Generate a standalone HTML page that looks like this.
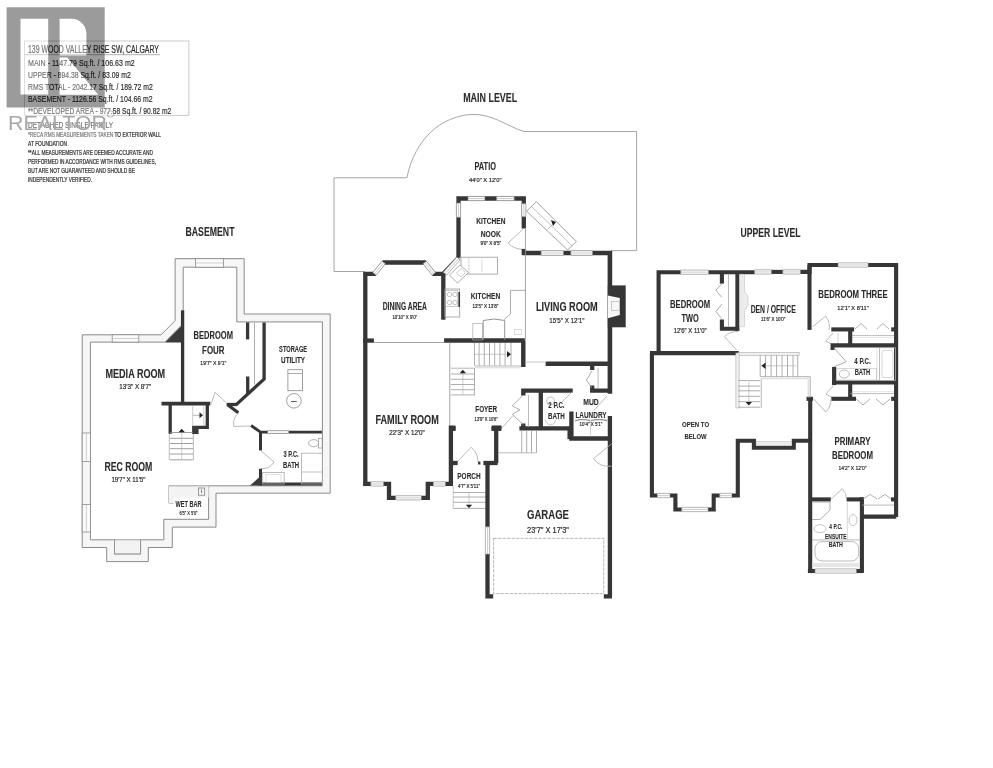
<!DOCTYPE html>
<html><head><meta charset="utf-8"><style>
html,body{margin:0;padding:0;background:#fff;}
svg{display:block;will-change:transform;font-family:"Liberation Sans",sans-serif;}
text{stroke:#2b2b2b;stroke-width:0.2px;}
text[font-weight=bold]{stroke-width:0.1px;}
</style></head><body>
<svg width="993" height="768" viewBox="0 0 993 768">
<rect x="24.5" y="41" width="164.4" height="74.3" rx="0" fill="none" stroke="#bdbdbd" stroke-width="0.8"/>
<polyline points="25,54.7 160,54.7" fill="none" stroke="#999" stroke-width="0.8"/>
<text x="28" y="53.22" font-size="10.4" fill="#2b2b2b" font-weight="normal" textLength="131" lengthAdjust="spacingAndGlyphs">139 WOOD VALLEY RISE SW, CALGARY</text>
<text x="28" y="66.04" font-size="9.9" fill="#2b2b2b" font-weight="normal" textLength="106.7" lengthAdjust="spacingAndGlyphs">MAIN - 1147.79 Sq.ft. / 106.63 m2</text>
<text x="28" y="77.84" font-size="9.9" fill="#2b2b2b" font-weight="normal" textLength="102.7" lengthAdjust="spacingAndGlyphs">UPPER - 894.38 Sq.ft. / 83.09 m2</text>
<text x="28" y="90.14" font-size="9.9" fill="#2b2b2b" font-weight="normal" textLength="124.7" lengthAdjust="spacingAndGlyphs">RMS TOTAL - 2042.17 Sq.ft. / 189.72 m2</text>
<text x="28" y="101.94" font-size="9.9" fill="#2b2b2b" font-weight="normal" textLength="124.7" lengthAdjust="spacingAndGlyphs">BASEMENT - 1126.56 Sq.ft. / 104.66 m2</text>
<text x="28" y="113.54" font-size="9.9" fill="#2b2b2b" font-weight="normal" textLength="143.3" lengthAdjust="spacingAndGlyphs">**DEVELOPED AREA - 977.58 Sq.ft. / 90.82 m2</text>
<text x="28" y="127.54" font-size="9.9" fill="#2b2b2b" font-weight="normal" textLength="85.2" lengthAdjust="spacingAndGlyphs">DETACHED SINGLE FAMILY</text>
<text x="28" y="136.96" font-size="6.6" fill="#2b2b2b" font-weight="normal" textLength="133" lengthAdjust="spacingAndGlyphs">*RECA RMS MEASUREMENTS TAKEN TO EXTERIOR WALL</text>
<text x="28" y="145.56" font-size="6.6" fill="#2b2b2b" font-weight="normal" textLength="39" lengthAdjust="spacingAndGlyphs">AT FOUNDATION</text>
<text x="28" y="154.66" font-size="6.6" fill="#2b2b2b" font-weight="normal" textLength="125" lengthAdjust="spacingAndGlyphs">**ALL MEASUREMENTS ARE DEEMED ACCURATE AND</text>
<text x="28" y="163.76" font-size="6.6" fill="#2b2b2b" font-weight="normal" textLength="128" lengthAdjust="spacingAndGlyphs">PERFORMED IN ACCORDANCE WITH RMS GUIDELINES,</text>
<text x="28" y="172.76" font-size="6.6" fill="#2b2b2b" font-weight="normal" textLength="107" lengthAdjust="spacingAndGlyphs">BUT ARE NOT GUARANTEED AND SHOULD BE</text>
<text x="28" y="181.86" font-size="6.6" fill="#2b2b2b" font-weight="normal" textLength="64" lengthAdjust="spacingAndGlyphs">INDEPENDENTLY VERIFIED.</text>
<path d="M20.5,18.8 V94.6 H48.2 V18.8 Z M59.6,18.8 V55.5 H86.4 V34 A15,15 0 0 0 71.4,18.8 Z M59.6,57.5 V94.7 H98.3 L67.3,57.5 Z M6.6,107.4 H113 V138 H6.6 Z" fill="#ffffff" fill-opacity="0.35"/>
<path d="M6.6,7.2 H104.7 V107.4 H6.6 Z M20.5,18.8 V94.6 H48.2 V18.8 Z M59.6,18.8 V55.5 H86.4 V34 A15,15 0 0 0 71.4,18.8 Z M59.6,57.5 V94.7 H98.3 L67.3,57.5 Z" fill="#9b9b9b" fill-rule="evenodd" style="mix-blend-mode:multiply"/>
<text x="8" y="129.6" font-size="21" fill="#a8a8a8" stroke="none" style="stroke:none" textLength="99" lengthAdjust="spacingAndGlyphs">REALTOR</text>
<circle cx="110.5" cy="114" r="3.2" fill="none" stroke="#999" stroke-width="0.7"/>
<text x="210" y="236.30" font-size="12" fill="#2b2b2b" text-anchor="middle" font-weight="bold" textLength="49" lengthAdjust="spacingAndGlyphs">BASEMENT</text>
<text x="490.2" y="101.90" font-size="12" fill="#2b2b2b" text-anchor="middle" font-weight="bold" textLength="54" lengthAdjust="spacingAndGlyphs">MAIN LEVEL</text>
<text x="770.6" y="236.80" font-size="12" fill="#2b2b2b" text-anchor="middle" font-weight="bold" textLength="60" lengthAdjust="spacingAndGlyphs">UPPER LEVEL</text>
<polygon points="82.2,334.8 161.1,334.8 175.1,320.7 175.1,258.7 244.2,258.7 244.2,314 330.2,314 330.2,493.2 216,493.2 216,527.1 172.3,527.1 172.3,547.5 148.3,547.5 148.3,561.6 106.7,561.6 106.7,547.5 82.2,547.5" fill="#f6f6f6" stroke="#8a8a8a" stroke-width="1"/>
<polygon points="90.4,342.1 165.1,342.1 183.2,323.4 183.2,267.2 236.8,267.2 236.8,321.9 322.4,321.9 322.4,485.8 208.6,485.8 208.6,519.3 163.8,519.3 163.8,539.8 140.6,539.8 140.6,553.9 114.5,553.9 114.5,539.8 90.4,539.8" fill="#ffffff" stroke="#8a8a8a" stroke-width="1"/>
<polygon points="183.8,323.4 183.8,342.6 165.1,342.6" fill="#3a3a3a" stroke="none" stroke-width="1"/>
<rect x="195.5" y="258.7" width="28.099999999999994" height="8.5" rx="0" fill="#fbfbfb" stroke="#8a8a8a" stroke-width="0.8"/>
<polyline points="195.5,262.95 223.6,262.95" fill="none" stroke="#b0b0b0" stroke-width="0.6"/>
<rect x="112.2" y="334.8" width="26.60000000000001" height="7.300000000000011" rx="0" fill="#fbfbfb" stroke="#8a8a8a" stroke-width="0.8"/>
<polyline points="112.2,338.45000000000005 138.8,338.45000000000005" fill="none" stroke="#b0b0b0" stroke-width="0.6"/>
<rect x="82.2" y="433" width="8.200000000000003" height="28.600000000000023" rx="0" fill="#fbfbfb" stroke="#8a8a8a" stroke-width="0.8"/>
<polyline points="86.30000000000001,433 86.30000000000001,461.6" fill="none" stroke="#b0b0b0" stroke-width="0.6"/>
<rect x="82.2" y="504.5" width="8.200000000000003" height="27.5" rx="0" fill="#fbfbfb" stroke="#8a8a8a" stroke-width="0.8"/>
<polyline points="86.30000000000001,504.5 86.30000000000001,532" fill="none" stroke="#b0b0b0" stroke-width="0.6"/>
<rect x="114.5" y="539.8" width="26.1" height="14.1" rx="0" fill="#f3f3f3" stroke="#8a8a8a" stroke-width="0.8"/>
<polyline points="182.6,312 182.6,402" fill="none" stroke="#363636" stroke-width="3.3" stroke-linecap="square" stroke-linejoin="miter"/>
<polyline points="161.5,403.6 210.3,403.6" fill="none" stroke="#363636" stroke-width="3.9" stroke-linecap="butt" stroke-linejoin="miter"/>
<polyline points="170.2,403.6 170.2,433.8" fill="none" stroke="#363636" stroke-width="3.3" stroke-linecap="butt" stroke-linejoin="miter"/>
<polyline points="207.3,403.6 207.3,427.3 192.7,427.3" fill="none" stroke="#363636" stroke-width="3.3" stroke-linecap="butt" stroke-linejoin="miter"/>
<rect x="192.1" y="426" width="6.5" height="8" rx="0" fill="#3a3a3a" stroke="none" stroke-width="1"/>
<polyline points="247.6,322.4 247.6,339.4" fill="none" stroke="#363636" stroke-width="3.3" stroke-linecap="butt" stroke-linejoin="miter"/>
<polyline points="247.7,376.5 247.7,394.1" fill="none" stroke="#363636" stroke-width="3.3" stroke-linecap="butt" stroke-linejoin="miter"/>
<polyline points="254.5,322.4 254.5,384.4" fill="none" stroke="#999" stroke-width="0.8"/>
<polyline points="264.1,322.4 264.1,379.1 235.7,405.1" fill="none" stroke="#363636" stroke-width="3.3" stroke-linecap="butt" stroke-linejoin="miter"/>
<polyline points="226.6,404.5 236.5,404.5" fill="none" stroke="#363636" stroke-width="3.3" stroke-linecap="butt" stroke-linejoin="miter"/>
<polyline points="228,405 238.3,412.7" fill="none" stroke="#363636" stroke-width="3.3" stroke-linecap="butt" stroke-linejoin="miter"/>
<polyline points="169.3,434 169.3,460" fill="none" stroke="#aaa" stroke-width="0.8"/>
<polyline points="193.4,434 193.4,460" fill="none" stroke="#aaa" stroke-width="0.8"/>
<polyline points="170,432.5 193,432.5" fill="none" stroke="#888" stroke-width="0.8"/>
<polyline points="170,438.3 193,438.3" fill="none" stroke="#888" stroke-width="0.8"/>
<polyline points="170,443.5 193,443.5" fill="none" stroke="#888" stroke-width="0.8"/>
<polyline points="170,448.7 193,448.7" fill="none" stroke="#888" stroke-width="0.8"/>
<polyline points="170,454 193,454" fill="none" stroke="#888" stroke-width="0.8"/>
<polyline points="170,459.8 193,459.8" fill="none" stroke="#888" stroke-width="0.8"/>
<polyline points="181.7,430 181.7,459" fill="none" stroke="#aaa" stroke-width="0.6"/>
<polygon points="178.5,432.2 184.9,432.2 181.7,428.8" fill="#222" stroke="none" stroke-width="1"/>
<polyline points="192.7,405.5 192.7,426" fill="none" stroke="#aaa" stroke-width="0.6"/>
<polyline points="203.8,405.5 203.8,426" fill="none" stroke="#aaa" stroke-width="0.6"/>
<polyline points="193,415.3 200,415.3" fill="none" stroke="#888" stroke-width="0.6"/>
<polygon points="199.5,412.3 199.5,418.3 203,415.3" fill="#222" stroke="none" stroke-width="1"/>
<polyline points="211,404.5 215,392.1 225.9,402.5" fill="none" stroke="#aaa" stroke-width="0.8"/>
<path d="M238.5,413 A14,14 0 0 0 233.8,426.5 L250.7,426" fill="none" stroke="#aaa" stroke-width="0.8"/>
<path d="M260.5,450.4 L274,462 A14,14 0 0 1 261,468.7" fill="none" stroke="#aaa" stroke-width="0.8"/>
<polyline points="251.1,425.5 260.5,432.1 321.9,432.1" fill="none" stroke="#363636" stroke-width="2.9" stroke-linecap="butt" stroke-linejoin="miter"/>
<polyline points="260.5,432.1 260.5,450.4" fill="none" stroke="#363636" stroke-width="3" stroke-linecap="butt" stroke-linejoin="miter"/>
<polyline points="260.5,468.7 260.5,484.1 321.9,484.1" fill="none" stroke="#363636" stroke-width="3" stroke-linecap="butt" stroke-linejoin="miter"/>
<polygon points="250,485.6 262,485.6 262,474.7" fill="#3a3a3a" stroke="none" stroke-width="1"/>
<rect x="267.7" y="430.8" width="21" height="2.6" rx="0" fill="#f6f6f6" stroke="#888" stroke-width="0.5"/>
<ellipse cx="313.6" cy="443.2" rx="5" ry="3.6" fill="none" stroke="#999" stroke-width="0.8"/>
<rect x="318.6" y="438.5" width="3.6" height="9.5" rx="0" fill="none" stroke="#999" stroke-width="0.7"/>
<rect x="301.4" y="453.2" width="21" height="30.8" rx="0" fill="none" stroke="#aaa" stroke-width="0.8"/>
<polyline points="301.4,472 322.4,472" fill="none" stroke="#aaa" stroke-width="0.7"/>
<rect x="262.7" y="472.5" width="21.5" height="11.5" rx="0" fill="none" stroke="#aaa" stroke-width="0.8"/>
<rect x="266" y="474.5" width="15" height="8" rx="0" fill="none" stroke="#ccc" stroke-width="0.6"/>
<rect x="287.9" y="369.7" width="14.7" height="21" rx="0" fill="none" stroke="#888" stroke-width="0.8"/>
<polyline points="287.9,373.5 302.6,373.5" fill="none" stroke="#888" stroke-width="0.7"/>
<circle cx="293.9" cy="400.8" r="7.3" fill="none" stroke="#888" stroke-width="0.8"/>
<text x="293.9" y="401.69" font-size="2.5" fill="#2b2b2b" text-anchor="middle" font-weight="normal" textLength="6" lengthAdjust="spacingAndGlyphs">HWH</text>
<polyline points="168.8,485.8 168.8,503.1 173.7,503.1" fill="none" stroke="#888" stroke-width="0.8"/>
<polygon points="168.8,485.8 208.6,485.8 208.6,497.5 173.7,497.5 173.7,503.1 168.8,503.1" fill="#f3f3f3" stroke="none" stroke-width="1"/>
<polyline points="168.8,485.8 208.6,485.8" fill="none" stroke="#888" stroke-width="0.8"/>
<rect x="198.4" y="488" width="6.3" height="7.2" rx="0" fill="none" stroke="#777" stroke-width="0.7"/>
<polyline points="201.5,489.5 201.5,493" fill="none" stroke="#555" stroke-width="0.7"/>
<text x="213.3" y="339.37" font-size="10.8" fill="#2b2b2b" text-anchor="middle" font-weight="bold" textLength="39.4" lengthAdjust="spacingAndGlyphs">BEDROOM</text>
<text x="213.3" y="354.37" font-size="10.8" fill="#2b2b2b" text-anchor="middle" font-weight="bold" textLength="22.5" lengthAdjust="spacingAndGlyphs">FOUR</text>
<text x="213.3" y="364.85" font-size="6" fill="#2b2b2b" text-anchor="middle" font-weight="normal" textLength="26" lengthAdjust="spacingAndGlyphs">19'7&quot; X 9'1&quot;</text>
<text x="293.1" y="351.78" font-size="8.6" fill="#2b2b2b" text-anchor="middle" font-weight="bold" textLength="28" lengthAdjust="spacingAndGlyphs">STORAGE</text>
<text x="293.1" y="362.78" font-size="8.6" fill="#2b2b2b" text-anchor="middle" font-weight="bold" textLength="24" lengthAdjust="spacingAndGlyphs">UTILITY</text>
<text x="135.3" y="377.90" font-size="12" fill="#2b2b2b" text-anchor="middle" font-weight="bold" textLength="59.8" lengthAdjust="spacingAndGlyphs">MEDIA ROOM</text>
<text x="135.3" y="388.76" font-size="6.6" fill="#2b2b2b" text-anchor="middle" font-weight="normal" textLength="32" lengthAdjust="spacingAndGlyphs">13'3&quot; X 8'7&quot;</text>
<text x="128.4" y="470.68" font-size="12.5" fill="#2b2b2b" text-anchor="middle" font-weight="bold" textLength="48" lengthAdjust="spacingAndGlyphs">REC ROOM</text>
<text x="128.4" y="482.36" font-size="6.6" fill="#2b2b2b" text-anchor="middle" font-weight="normal" textLength="34" lengthAdjust="spacingAndGlyphs">19'7&quot; X 11'5&quot;</text>
<text x="291.1" y="456.99" font-size="9.2" fill="#2b2b2b" text-anchor="middle" font-weight="bold" textLength="15" lengthAdjust="spacingAndGlyphs">3 P.C.</text>
<text x="291.1" y="468.09" font-size="9.2" fill="#2b2b2b" text-anchor="middle" font-weight="bold" textLength="16" lengthAdjust="spacingAndGlyphs">BATH</text>
<text x="188.5" y="506.51" font-size="8.4" fill="#2b2b2b" text-anchor="middle" font-weight="bold" textLength="26" lengthAdjust="spacingAndGlyphs">WET BAR</text>
<text x="188.5" y="514.79" font-size="5" fill="#2b2b2b" text-anchor="middle" font-weight="normal" textLength="18" lengthAdjust="spacingAndGlyphs">6'5&quot; X 5'0&quot;</text>
<path d="M365,271.5 H334 V177.8 H407 C412,150 432,118 470,114.5 C492,113 506,126 524,131.5 H636.6 V250.6 H611" fill="none" stroke="#9c9c9c" stroke-width="0.9"/>
<text x="485.2" y="169.98" font-size="10" fill="#2b2b2b" text-anchor="middle" font-weight="bold" textLength="21.5" lengthAdjust="spacingAndGlyphs">PATIO</text>
<text x="485.2" y="181.65" font-size="6" fill="#2b2b2b" text-anchor="middle" font-weight="normal" textLength="32.5" lengthAdjust="spacingAndGlyphs">44'0&quot; X 12'0&quot;</text>
<polyline points="458.5,257.7 458.5,198.5 523.8,198.5 523.8,228.4" fill="none" stroke="#363636" stroke-width="4.3" stroke-linecap="butt" stroke-linejoin="miter"/>
<polygon points="468.0,200.65 484.9,200.65 484.9,196.35 468.0,196.35" fill="#fafafa" stroke="#888888" stroke-width="0.6"/>
<polyline points="468,198.5 484.9,198.5" fill="none" stroke="#aaa" stroke-width="0.5"/>
<polygon points="496.6,200.65 514.2,200.65 514.2,196.35 496.6,196.35" fill="#fafafa" stroke="#888888" stroke-width="0.6"/>
<polyline points="496.6,198.5 514.2,198.5" fill="none" stroke="#aaa" stroke-width="0.5"/>
<polygon points="456.35,203.0 456.35,217.3 460.65,217.3 460.65,203.0" fill="#fafafa" stroke="#888888" stroke-width="0.6"/>
<polyline points="458.5,203 458.5,217.3" fill="none" stroke="#aaa" stroke-width="0.5"/>
<polygon points="521.65,203.7 521.65,216.7 525.95,216.7 525.95,203.7" fill="#fafafa" stroke="#888888" stroke-width="0.6"/>
<polyline points="523.8,203.7 523.8,216.7" fill="none" stroke="#aaa" stroke-width="0.5"/>
<path d="M523.8,228.4 L508,243 A20,20 0 0 0 523.8,249.2" fill="none" stroke="#aaa" stroke-width="0.8"/>
<text x="490.8" y="223.82" font-size="9" fill="#2b2b2b" text-anchor="middle" font-weight="bold" textLength="29.3" lengthAdjust="spacingAndGlyphs">KITCHEN</text>
<text x="490.8" y="236.82" font-size="9" fill="#2b2b2b" text-anchor="middle" font-weight="bold" textLength="20.2" lengthAdjust="spacingAndGlyphs">NOOK</text>
<text x="490.8" y="245.12" font-size="4.8" fill="#2b2b2b" text-anchor="middle" font-weight="normal" textLength="20.8" lengthAdjust="spacingAndGlyphs">9'0&quot; X 8'5&quot;</text>
<polygon points="536.3,201.6 576.2,241.5 567.7,250 526.6,211.3" fill="#ffffff" stroke="#8a8a8a" stroke-width="0.8"/>
<polyline points="531.5,206.5 572,245.7" fill="none" stroke="#999" stroke-width="0.6"/>
<polygon points="551,220 556,222 553,226" fill="#222" stroke="none" stroke-width="1"/>
<polyline points="548,229 553,224" fill="none" stroke="#999" stroke-width="0.6"/>
<polyline points="522.4,253 609.9,253 609.9,393.8" fill="none" stroke="#363636" stroke-width="4.6" stroke-linecap="butt" stroke-linejoin="miter"/>
<polyline points="523.8,249 523.8,255" fill="none" stroke="#363636" stroke-width="4.3" stroke-linecap="butt" stroke-linejoin="miter"/>
<polygon points="541.1,255.3 563.5,255.3 563.5,250.7 541.1,250.7" fill="#fafafa" stroke="#888888" stroke-width="0.6"/>
<polyline points="541.1,253 563.5,253" fill="none" stroke="#aaa" stroke-width="0.5"/>
<polygon points="570.8,255.3 592.5,255.3 592.5,250.7 570.8,250.7" fill="#fafafa" stroke="#888888" stroke-width="0.6"/>
<polyline points="570.8,253 592.5,253" fill="none" stroke="#aaa" stroke-width="0.5"/>
<polyline points="525.4,228 525.4,340" fill="none" stroke="#9a9a9a" stroke-width="0.9"/>
<polygon points="607.8,285.4 625.7,285.4 625.7,327.3 607.8,327.3" fill="#363636" stroke="none" stroke-width="1"/>
<polygon points="607.8,295.4 619.8,298 619.8,314.9 607.8,318.2" fill="#f7f7f7" stroke="none" stroke-width="1"/>
<rect x="611.4" y="301.5" width="8" height="9" rx="0" fill="none" stroke="#aaa" stroke-width="0.6"/>
<polyline points="545.6,363.8 611,363.8" fill="none" stroke="#363636" stroke-width="4.6" stroke-linecap="butt" stroke-linejoin="miter"/>
<text x="566.8" y="311.14" font-size="12.4" fill="#2b2b2b" text-anchor="middle" font-weight="bold" textLength="61.8" lengthAdjust="spacingAndGlyphs">LIVING ROOM</text>
<text x="566.8" y="323.31" font-size="7" fill="#2b2b2b" text-anchor="middle" font-weight="normal" textLength="35.1" lengthAdjust="spacingAndGlyphs">15'5&quot; X 12'1&quot;</text>
<polyline points="365.3,485.7 365.3,273.8 374.5,273.8 383.7,262.5 424.7,262.5 433.8,273.8 443.3,273.8 458.5,257.7" fill="none" stroke="#363636" stroke-width="4.3" stroke-linecap="butt" stroke-linejoin="miter"/>
<polygon points="376.17,275.16 385.37,263.86 382.03,261.14 372.83,272.44" fill="#fafafa" stroke="#888888" stroke-width="0.6"/>
<polyline points="374.5,273.8 383.7,262.5" fill="none" stroke="#aaa" stroke-width="0.5"/>
<polygon points="423.03,263.85 432.13,275.15 435.47,272.45 426.37,261.15" fill="#fafafa" stroke="#888888" stroke-width="0.6"/>
<polyline points="424.7,262.5 433.8,273.8" fill="none" stroke="#aaa" stroke-width="0.5"/>
<polygon points="446.51,275.23 460.11,259.93 456.89,257.07 443.29,272.37" fill="#fafafa" stroke="#888888" stroke-width="0.6"/>
<polyline points="444.9,273.8 458.5,258.5" fill="none" stroke="#aaa" stroke-width="0.5"/>
<polyline points="443.3,273.8 443.3,319.7" fill="none" stroke="#363636" stroke-width="4.3" stroke-linecap="butt" stroke-linejoin="miter"/>
<polyline points="363.2,340.6 373.9,340.6" fill="none" stroke="#363636" stroke-width="4.3" stroke-linecap="butt" stroke-linejoin="miter"/>
<polyline points="373.9,342.5 444.2,342.5" fill="none" stroke="#9a9a9a" stroke-width="0.9"/>
<polyline points="444.1,340.5 524.8,340.5 523.3,340.5 523.3,366.9" fill="none" stroke="#363636" stroke-width="4.4" stroke-linecap="butt" stroke-linejoin="miter"/>
<text x="404.8" y="309.88" font-size="10" fill="#2b2b2b" text-anchor="middle" font-weight="bold" textLength="44.3" lengthAdjust="spacingAndGlyphs">DINING AREA</text>
<text x="404.8" y="319.00" font-size="5.6" fill="#2b2b2b" text-anchor="middle" font-weight="normal" textLength="24.7" lengthAdjust="spacingAndGlyphs">10'10&quot; X 9'0&quot;</text>
<rect x="461" y="257.2" width="36.5" height="16.9" rx="0" fill="none" stroke="#999" stroke-width="0.8"/>
<polyline points="468.9,257.2 468.9,274.1" fill="none" stroke="#bbb" stroke-width="0.6"/>
<polyline points="481.9,259 481.9,272" fill="none" stroke="#bbb" stroke-width="0.6"/>
<polygon points="460,265 468.5,272.5 457.5,283 449.5,275" fill="#fff" stroke="#999" stroke-width="0.8"/>
<polygon points="461,268.5 465.5,272.5 461,277 456.5,273" fill="none" stroke="#aaa" stroke-width="0.6"/>
<rect x="444.8" y="289" width="14.9" height="28" rx="0" fill="none" stroke="#999" stroke-width="0.8"/>
<rect x="445.8" y="290.5" width="12" height="16" rx="0" fill="none" stroke="#aaa" stroke-width="0.6"/>
<circle cx="449.5" cy="294.5" r="2.2" fill="none" stroke="#999" stroke-width="0.6"/>
<circle cx="455" cy="294.5" r="2.2" fill="none" stroke="#999" stroke-width="0.6"/>
<circle cx="449.5" cy="302.5" r="2.2" fill="none" stroke="#999" stroke-width="0.6"/>
<circle cx="455" cy="302.5" r="2.2" fill="none" stroke="#999" stroke-width="0.6"/>
<polyline points="459.2,292 459.2,307" fill="none" stroke="#363636" stroke-width="1.6" stroke-linecap="butt" stroke-linejoin="miter"/>
<polyline points="510.5,290.4 525.5,290.4" fill="none" stroke="#999" stroke-width="0.8"/>
<polyline points="510.5,290.4 510.5,313.8 504,319.7" fill="none" stroke="#999" stroke-width="0.8"/>
<path d="M483.2,340 V320.5 Q494,317.5 504.7,320.5 V340" fill="none" stroke="#888" stroke-width="0.9"/>
<rect x="472.8" y="323.6" width="9.7" height="16.4" rx="0" fill="none" stroke="#aaa" stroke-width="0.7"/>
<rect x="514.5" y="329.5" width="7" height="5" rx="0" fill="none" stroke="#bbb" stroke-width="0.5"/>
<text x="485.5" y="299.24" font-size="9.6" fill="#2b2b2b" text-anchor="middle" font-weight="bold" textLength="29.3" lengthAdjust="spacingAndGlyphs">KITCHEN</text>
<text x="485.5" y="308.23" font-size="5.4" fill="#2b2b2b" text-anchor="middle" font-weight="normal" textLength="26" lengthAdjust="spacingAndGlyphs">13'5&quot; X 13'8&quot;</text>
<polyline points="474.5,343 474.5,365.6" fill="none" stroke="#999" stroke-width="0.8"/>
<polyline points="479.1,343 479.1,365.6" fill="none" stroke="#999" stroke-width="0.8"/>
<polyline points="484.3,343 484.3,365.6" fill="none" stroke="#999" stroke-width="0.8"/>
<polyline points="489.5,343 489.5,365.6" fill="none" stroke="#999" stroke-width="0.8"/>
<polyline points="494.7,343 494.7,365.6" fill="none" stroke="#999" stroke-width="0.8"/>
<polyline points="499.9,343 499.9,365.6" fill="none" stroke="#999" stroke-width="0.8"/>
<polyline points="505.1,343 505.1,365.6" fill="none" stroke="#999" stroke-width="0.8"/>
<polyline points="511,343 511,365.6" fill="none" stroke="#999" stroke-width="0.8"/>
<polyline points="474.5,354.3 508,354.3" fill="none" stroke="#aaa" stroke-width="0.6"/>
<polygon points="507,351 507,357.6 511,354.3" fill="#222" stroke="none" stroke-width="1"/>
<polyline points="474.5,366 521,366" fill="none" stroke="#999" stroke-width="0.7"/>
<polyline points="474.5,367.8 521,367.8" fill="none" stroke="#bbb" stroke-width="0.6"/>
<polyline points="474.5,368 474.5,395.5" fill="none" stroke="#999" stroke-width="0.8"/>
<polyline points="451,374 474,374" fill="none" stroke="#999" stroke-width="0.8"/>
<polyline points="451,379.3 474,379.3" fill="none" stroke="#999" stroke-width="0.8"/>
<polyline points="451,384.5 474,384.5" fill="none" stroke="#999" stroke-width="0.8"/>
<polyline points="451,389.7 474,389.7" fill="none" stroke="#999" stroke-width="0.8"/>
<polyline points="451,394.9 474,394.9" fill="none" stroke="#999" stroke-width="0.8"/>
<polyline points="451,368.2 474,368.2" fill="none" stroke="#999" stroke-width="0.7"/>
<polyline points="462.8,372 462.8,394" fill="none" stroke="#aaa" stroke-width="0.6"/>
<polygon points="459.6,373.2 466,373.2 462.8,369.8" fill="#222" stroke="none" stroke-width="1"/>
<polyline points="449.8,342.5 449.8,428" fill="none" stroke="#9a9a9a" stroke-width="0.9"/>
<polyline points="523.3,395.5 523.3,390.6 572.7,390.6" fill="none" stroke="#363636" stroke-width="4.3" stroke-linecap="butt" stroke-linejoin="miter"/>
<polyline points="540.8,390.6 540.8,428.3" fill="none" stroke="#363636" stroke-width="4.3" stroke-linecap="butt" stroke-linejoin="miter"/>
<polyline points="519.4,428.3 571.4,428.3" fill="none" stroke="#363636" stroke-width="4.3" stroke-linecap="butt" stroke-linejoin="miter"/>
<polyline points="571.4,411.4 571.4,438.5 609.8,438.5" fill="none" stroke="#363636" stroke-width="4.3" stroke-linecap="butt" stroke-linejoin="miter"/>
<polyline points="523.3,423.5 523.3,428.3" fill="none" stroke="#363636" stroke-width="4.3" stroke-linecap="butt" stroke-linejoin="miter"/>
<polyline points="528.5,395 528.5,427" fill="none" stroke="#aaa" stroke-width="0.8"/>
<polyline points="523.3,394.9 512.3,406 520,409.9 512.3,414.4 523.3,424.8" fill="none" stroke="#999" stroke-width="0.8"/>
<polyline points="501.8,428.1 512.9,415.7" fill="none" stroke="#aaa" stroke-width="0.8"/>
<polyline points="449.8,428.8 455.6,428.8" fill="none" stroke="#363636" stroke-width="4.3" stroke-linecap="butt" stroke-linejoin="miter"/>
<polyline points="491.4,428.8 501.2,428.8" fill="none" stroke="#363636" stroke-width="4.3" stroke-linecap="butt" stroke-linejoin="miter"/>
<polyline points="592.2,370 592.2,363.8" fill="none" stroke="#363636" stroke-width="4.3" stroke-linecap="butt" stroke-linejoin="miter"/>
<polyline points="592.2,385.5 592.2,390.6 609.9,390.6" fill="none" stroke="#363636" stroke-width="4.3" stroke-linecap="butt" stroke-linejoin="miter"/>
<polyline points="598.1,368 598.1,389" fill="none" stroke="#aaa" stroke-width="0.8"/>
<polyline points="592,371 586.4,380 592,388" fill="none" stroke="#999" stroke-width="0.8"/>
<polyline points="607.2,395.8 594.2,410.1" fill="none" stroke="#aaa" stroke-width="0.8"/>
<polyline points="609.9,416 609.9,466.5" fill="none" stroke="#363636" stroke-width="4.3" stroke-linecap="butt" stroke-linejoin="miter"/>
<polyline points="572,391.9 561.7,402.3" fill="none" stroke="#aaa" stroke-width="0.8"/>
<circle cx="550.6" cy="401" r="4" fill="none" stroke="#aaa" stroke-width="0.7"/>
<path d="M545.5,419.9 A5,5 0 0 0 555.5,419.9" fill="none" stroke="#aaa" stroke-width="0.7"/>
<polyline points="575,420 608,420" fill="none" stroke="#999" stroke-width="0.6"/>
<polyline points="590.5,421 590.5,436.5" fill="none" stroke="#bbb" stroke-width="0.6"/>
<polyline points="525.5,362 545.6,362" fill="none" stroke="#c8c8c8" stroke-width="1.0"/>
<path d="M575,421 Q583,417.5 590,421 M591,421 Q599,417.5 607,421" fill="none" stroke="#777" stroke-width="0.8"/>
<text x="556.4" y="407.64" font-size="9.6" fill="#2b2b2b" text-anchor="middle" font-weight="bold" textLength="16.3" lengthAdjust="spacingAndGlyphs">2 P.C.</text>
<text x="556.4" y="418.74" font-size="9.6" fill="#2b2b2b" text-anchor="middle" font-weight="bold" textLength="16.9" lengthAdjust="spacingAndGlyphs">BATH</text>
<text x="591" y="405.04" font-size="9.6" fill="#2b2b2b" text-anchor="middle" font-weight="bold" textLength="15.6" lengthAdjust="spacingAndGlyphs">MUD</text>
<text x="591" y="418.04" font-size="9.6" fill="#2b2b2b" text-anchor="middle" font-weight="bold" textLength="31.2" lengthAdjust="spacingAndGlyphs">LAUNDRY</text>
<text x="591" y="425.79" font-size="5" fill="#2b2b2b" text-anchor="middle" font-weight="normal" textLength="22.8" lengthAdjust="spacingAndGlyphs">10'4&quot; X 5'1&quot;</text>
<text x="486.2" y="412.44" font-size="9.6" fill="#2b2b2b" text-anchor="middle" font-weight="bold" textLength="21.9" lengthAdjust="spacingAndGlyphs">FOYER</text>
<text x="486.2" y="421.19" font-size="5" fill="#2b2b2b" text-anchor="middle" font-weight="normal" textLength="23.2" lengthAdjust="spacingAndGlyphs">13'9&quot; X 10'6&quot;</text>
<polyline points="363.3,483.9 370.9,483.9" fill="none" stroke="#363636" stroke-width="4.3" stroke-linecap="butt" stroke-linejoin="miter"/>
<polygon points="370.9,486.05 383.7,486.05 383.7,481.75 370.9,481.75" fill="#fafafa" stroke="#888888" stroke-width="0.6"/>
<polyline points="370.9,483.9 383.7,483.9" fill="none" stroke="#aaa" stroke-width="0.5"/>
<polyline points="383.7,483.9 389,483.9 389,497.8 395.8,497.8" fill="none" stroke="#363636" stroke-width="4.3" stroke-linecap="butt" stroke-linejoin="miter"/>
<polygon points="395.8,499.95 421.5,499.95 421.5,495.65 395.8,495.65" fill="#fafafa" stroke="#888888" stroke-width="0.6"/>
<polyline points="395.8,497.8 421.5,497.8" fill="none" stroke="#aaa" stroke-width="0.5"/>
<polyline points="421.5,497.8 427.8,497.8 427.8,483.9 433.5,483.9" fill="none" stroke="#363636" stroke-width="4.3" stroke-linecap="butt" stroke-linejoin="miter"/>
<polygon points="433.5,486.05 445.6,486.05 445.6,481.75 433.5,481.75" fill="#fafafa" stroke="#888888" stroke-width="0.6"/>
<polyline points="433.5,483.9 445.6,483.9" fill="none" stroke="#aaa" stroke-width="0.5"/>
<polyline points="445.6,483.9 450.9,483.9 450.9,427.6 455.5,427.6" fill="none" stroke="#363636" stroke-width="4.3" stroke-linecap="butt" stroke-linejoin="miter"/>
<text x="407.1" y="423.90" font-size="12" fill="#2b2b2b" text-anchor="middle" font-weight="bold" textLength="63.4" lengthAdjust="spacingAndGlyphs">FAMILY ROOM</text>
<text x="407.1" y="435.16" font-size="6.6" fill="#2b2b2b" text-anchor="middle" font-weight="normal" textLength="35.5" lengthAdjust="spacingAndGlyphs">22'3&quot; X 12'0&quot;</text>
<polyline points="450.9,463 457.7,463" fill="none" stroke="#363636" stroke-width="4.3" stroke-linecap="butt" stroke-linejoin="miter"/>
<polyline points="478.1,463 480.4,463" fill="none" stroke="#363636" stroke-width="3" stroke-linecap="butt" stroke-linejoin="miter"/>
<polyline points="483.4,463 497.7,463" fill="none" stroke="#363636" stroke-width="4.3" stroke-linecap="butt" stroke-linejoin="miter"/>
<polyline points="496.2,463 496.2,427.6" fill="none" stroke="#363636" stroke-width="4.3" stroke-linecap="butt" stroke-linejoin="miter"/>
<polyline points="491.7,427.6 501.5,427.6" fill="none" stroke="#363636" stroke-width="4.3" stroke-linecap="butt" stroke-linejoin="miter"/>
<path d="M458,461 L471.3,447.2 A20,20 0 0 1 478,462" fill="none" stroke="#aaa" stroke-width="0.8"/>
<polyline points="453.2,492.5 487,492.5" fill="none" stroke="#999" stroke-width="0.8"/>
<polyline points="453.2,497 487,497" fill="none" stroke="#999" stroke-width="0.8"/>
<polyline points="453.2,502.3 487,502.3" fill="none" stroke="#999" stroke-width="0.8"/>
<polyline points="453.2,508.4 487,508.4" fill="none" stroke="#999" stroke-width="0.8"/>
<polyline points="453.2,486 453.2,508.4" fill="none" stroke="#aaa" stroke-width="0.7"/>
<polyline points="469,492.5 469,505" fill="none" stroke="#aaa" stroke-width="0.6"/>
<polygon points="465.8,504.8 472.2,504.8 469,508" fill="#222" stroke="none" stroke-width="1"/>
<text x="469" y="479.35" font-size="8.8" fill="#2b2b2b" text-anchor="middle" font-weight="bold" textLength="23.4" lengthAdjust="spacingAndGlyphs">PORCH</text>
<text x="469" y="488.22" font-size="4.8" fill="#2b2b2b" text-anchor="middle" font-weight="normal" textLength="21.9" lengthAdjust="spacingAndGlyphs">4'7&quot; X 5'11&quot;</text>
<polyline points="487.5,463 487.5,526.9" fill="none" stroke="#363636" stroke-width="4.3" stroke-linecap="butt" stroke-linejoin="miter"/>
<polygon points="485.35,526.9 485.35,554.2 489.65,554.2 489.65,526.9" fill="#fafafa" stroke="#888888" stroke-width="0.6"/>
<polyline points="487.5,526.9 487.5,554.2" fill="none" stroke="#aaa" stroke-width="0.5"/>
<polyline points="487.5,554.2 487.5,596.4 493.2,596.4" fill="none" stroke="#363636" stroke-width="4.3" stroke-linecap="butt" stroke-linejoin="miter"/>
<polyline points="609.9,466.5 609.9,596.4 603.8,596.4" fill="none" stroke="#363636" stroke-width="4.3" stroke-linecap="butt" stroke-linejoin="miter"/>
<rect x="493.7" y="538.3" width="110.1" height="55.4" rx="0" fill="none" stroke="#a5a5a5" stroke-width="0.8"/>
<rect x="493.7" y="538.3" width="110.1" height="55.4" fill="none" stroke="#fff" stroke-width="1" stroke-dasharray="0 3 1.5 0"/>
<path d="M611.8,443.7 L593.5,458.5 A18,18 0 0 0 611,466" fill="none" stroke="#aaa" stroke-width="0.8"/>
<polyline points="569.6,430 569.6,439.1" fill="none" stroke="#363636" stroke-width="4.3" stroke-linecap="butt" stroke-linejoin="miter"/>
<polyline points="499,452.8 536.5,452.8" fill="none" stroke="#aaa" stroke-width="0.8"/>
<polyline points="521.7,431 521.7,452.8" fill="none" stroke="#999" stroke-width="0.8"/>
<polyline points="526.7,431 526.7,452.8" fill="none" stroke="#999" stroke-width="0.8"/>
<polyline points="531.5,431 531.5,452.8" fill="none" stroke="#999" stroke-width="0.8"/>
<polyline points="536.5,431 536.5,452.8" fill="none" stroke="#999" stroke-width="0.8"/>
<text x="548" y="518.95" font-size="13" fill="#2b2b2b" text-anchor="middle" font-weight="bold" textLength="42" lengthAdjust="spacingAndGlyphs">GARAGE</text>
<text x="548" y="533.31" font-size="8.4" fill="#2b2b2b" text-anchor="middle" font-weight="normal" textLength="42" lengthAdjust="spacingAndGlyphs">23'7&quot; X 17'3&quot;</text>
<polyline points="658.6,353.1 658.6,272.2 680.8,272.2" fill="none" stroke="#363636" stroke-width="4.1" stroke-linecap="butt" stroke-linejoin="miter"/>
<polygon points="680.8,274.35 708.7,274.35 708.7,270.05 680.8,270.05" fill="#fafafa" stroke="#888888" stroke-width="0.6"/>
<polyline points="680.8,272.2 708.7,272.2" fill="none" stroke="#aaa" stroke-width="0.5"/>
<polyline points="708.7,272.2 754.7,272.2" fill="none" stroke="#363636" stroke-width="4.1" stroke-linecap="butt" stroke-linejoin="miter"/>
<polygon points="754.7,274.05 771.6,274.05 771.6,269.75 754.7,269.75" fill="#fafafa" stroke="#888888" stroke-width="0.6"/>
<polyline points="754.7,271.9 771.6,271.9" fill="none" stroke="#aaa" stroke-width="0.5"/>
<polyline points="771.6,271.9 782.9,271.9" fill="none" stroke="#363636" stroke-width="4.1" stroke-linecap="butt" stroke-linejoin="miter"/>
<polygon points="782.9,274.05 800.6,274.05 800.6,269.75 782.9,269.75" fill="#fafafa" stroke="#888888" stroke-width="0.6"/>
<polyline points="782.9,271.9 800.6,271.9" fill="none" stroke="#aaa" stroke-width="0.5"/>
<polyline points="800.6,271.9 809.5,271.9 809.5,265 838.1,265" fill="none" stroke="#363636" stroke-width="4.1" stroke-linecap="butt" stroke-linejoin="miter"/>
<polygon points="838.1,267.15 868.3,267.15 868.3,262.85 838.1,262.85" fill="#fafafa" stroke="#888888" stroke-width="0.6"/>
<polyline points="838.1,265 868.3,265" fill="none" stroke="#aaa" stroke-width="0.5"/>
<polyline points="868.3,265 896.1,265 896.1,517" fill="none" stroke="#363636" stroke-width="4.1" stroke-linecap="butt" stroke-linejoin="miter"/>
<polyline points="809.5,265 809.5,329.9" fill="none" stroke="#363636" stroke-width="4.1" stroke-linecap="butt" stroke-linejoin="miter"/>
<polyline points="721.9,272.2 721.9,283.6" fill="none" stroke="#363636" stroke-width="4.1" stroke-linecap="butt" stroke-linejoin="miter"/>
<polyline points="721.9,319.4 721.9,328.8 737.4,328.8" fill="none" stroke="#363636" stroke-width="4.1" stroke-linecap="butt" stroke-linejoin="miter"/>
<polyline points="737.4,272.2 737.4,330.9" fill="none" stroke="#363636" stroke-width="4.1" stroke-linecap="butt" stroke-linejoin="miter"/>
<polyline points="728.5,274 728.5,327" fill="none" stroke="#aaa" stroke-width="0.8"/>
<polyline points="721.9,284 715.9,290.1 721.6,297.2" fill="none" stroke="#999" stroke-width="0.8"/>
<polyline points="721.9,304 715.9,311.6 721.6,318.5" fill="none" stroke="#999" stroke-width="0.8"/>
<polygon points="739.6,274.4 744.5,274.4 744.5,292 748,296 748,306 744.5,311 744.5,326.6 739.6,326.6" fill="#ececec" stroke="#c4c4c4" stroke-width="0.6"/>
<path d="M736.7,350.2 L724.5,336.6 A18,18 0 0 1 738,331.5" fill="none" stroke="#aaa" stroke-width="0.8"/>
<polyline points="650,353.1 738.8,353.1" fill="none" stroke="#363636" stroke-width="4.1" stroke-linecap="butt" stroke-linejoin="miter"/>
<text x="690.1" y="308.19" font-size="10.6" fill="#2b2b2b" text-anchor="middle" font-weight="bold" textLength="40.1" lengthAdjust="spacingAndGlyphs">BEDROOM</text>
<text x="690.1" y="322.49" font-size="10.6" fill="#2b2b2b" text-anchor="middle" font-weight="bold" textLength="17.2" lengthAdjust="spacingAndGlyphs">TWO</text>
<text x="690.1" y="333.19" font-size="6.4" fill="#2b2b2b" text-anchor="middle" font-weight="normal" textLength="32.9" lengthAdjust="spacingAndGlyphs">12'6&quot; X 11'0&quot;</text>
<text x="773.2" y="313.08" font-size="10" fill="#2b2b2b" text-anchor="middle" font-weight="bold" textLength="45.1" lengthAdjust="spacingAndGlyphs">DEN / OFFICE</text>
<text x="773.2" y="321.36" font-size="5.2" fill="#2b2b2b" text-anchor="middle" font-weight="normal" textLength="24.2" lengthAdjust="spacingAndGlyphs">11'6&quot; X 10'0&quot;</text>
<text x="853" y="298.08" font-size="10" fill="#2b2b2b" text-anchor="middle" font-weight="bold" textLength="69.3" lengthAdjust="spacingAndGlyphs">BEDROOM THREE</text>
<text x="853" y="309.55" font-size="6" fill="#2b2b2b" text-anchor="middle" font-weight="normal" textLength="31.4" lengthAdjust="spacingAndGlyphs">12'1&quot; X 8'11&quot;</text>
<polyline points="831.3,329.4 854.1,329.4" fill="none" stroke="#363636" stroke-width="4.1" stroke-linecap="butt" stroke-linejoin="miter"/>
<polyline points="891.2,329.4 896.1,329.4" fill="none" stroke="#363636" stroke-width="4.1" stroke-linecap="butt" stroke-linejoin="miter"/>
<path d="M812.7,326.7 L825.6,316.2 A16,16 0 0 1 829,330" fill="none" stroke="#aaa" stroke-width="0.8"/>
<polyline points="855,329 861,323.5 867,329" fill="none" stroke="#999" stroke-width="0.8"/>
<polyline points="877,329 882.8,323.5 889,329" fill="none" stroke="#999" stroke-width="0.8"/>
<polyline points="850.2,335.6 894,335.6" fill="none" stroke="#aaa" stroke-width="0.8"/>
<polyline points="850.2,337.6 894,337.6" fill="none" stroke="#ccc" stroke-width="0.5"/>
<polyline points="850.2,329.4 850.2,344.8" fill="none" stroke="#363636" stroke-width="4.1" stroke-linecap="butt" stroke-linejoin="miter"/>
<polyline points="833,333 826,341 833,345" fill="none" stroke="#aaa" stroke-width="0.8"/>
<polyline points="838,333 838,345" fill="none" stroke="#bbb" stroke-width="0.6"/>
<polyline points="832.6,350 832.6,345.4 896.1,345.4" fill="none" stroke="#363636" stroke-width="4.1" stroke-linecap="butt" stroke-linejoin="miter"/>
<polyline points="834.1,366.9 834.1,385.1" fill="none" stroke="#363636" stroke-width="4.1" stroke-linecap="butt" stroke-linejoin="miter"/>
<polyline points="832,382.5 896.1,382.5" fill="none" stroke="#363636" stroke-width="4.1" stroke-linecap="butt" stroke-linejoin="miter"/>
<polyline points="834,348 846.2,361.7 834,366.9" fill="none" stroke="#999" stroke-width="0.8"/>
<rect x="879.5" y="347.8" width="16" height="32.7" rx="0" fill="none" stroke="#aaa" stroke-width="0.8"/>
<rect x="882" y="350.5" width="11" height="27" rx="2" fill="none" stroke="#bbb" stroke-width="0.6"/>
<polyline points="876.9,347.8 876.9,380" fill="none" stroke="#ccc" stroke-width="0.6"/>
<rect x="836.5" y="368.5" width="40" height="11.5" rx="0" fill="none" stroke="#bbb" stroke-width="0.6"/>
<ellipse cx="844.3" cy="374" rx="5" ry="4" fill="none" stroke="#999" stroke-width="0.7"/>
<text x="862.5" y="363.55" font-size="8.8" fill="#2b2b2b" text-anchor="middle" font-weight="bold" textLength="16.3" lengthAdjust="spacingAndGlyphs">4 P.C.</text>
<text x="862.5" y="374.65" font-size="8.8" fill="#2b2b2b" text-anchor="middle" font-weight="bold" textLength="15.6" lengthAdjust="spacingAndGlyphs">BATH</text>
<polyline points="850.2,382.5 850.2,398.2" fill="none" stroke="#363636" stroke-width="4.1" stroke-linecap="butt" stroke-linejoin="miter"/>
<polyline points="850.2,393.6 894,393.6" fill="none" stroke="#aaa" stroke-width="0.8"/>
<polyline points="852,391.6 894,391.6" fill="none" stroke="#ccc" stroke-width="0.5"/>
<polyline points="833,386 826,394 833,398" fill="none" stroke="#aaa" stroke-width="0.8"/>
<polyline points="806.5,398.8 813,398.8" fill="none" stroke="#363636" stroke-width="4.1" stroke-linecap="butt" stroke-linejoin="miter"/>
<polyline points="831.3,398.8 856,398.8" fill="none" stroke="#363636" stroke-width="4.1" stroke-linecap="butt" stroke-linejoin="miter"/>
<polyline points="891.2,398.8 896.1,398.8" fill="none" stroke="#363636" stroke-width="4.1" stroke-linecap="butt" stroke-linejoin="miter"/>
<polyline points="856,399 863,405 870,399" fill="none" stroke="#999" stroke-width="0.8"/>
<polyline points="876,399 883,405 890,399" fill="none" stroke="#999" stroke-width="0.8"/>
<polyline points="810.2,398.6 810.2,572.4" fill="none" stroke="#363636" stroke-width="4.1" stroke-linecap="butt" stroke-linejoin="miter"/>
<path d="M813.3,398.6 L825.8,411.9 A18,18 0 0 0 831,398.8" fill="none" stroke="#aaa" stroke-width="0.8"/>
<text x="852.5" y="445.32" font-size="10.4" fill="#2b2b2b" text-anchor="middle" font-weight="bold" textLength="36" lengthAdjust="spacingAndGlyphs">PRIMARY</text>
<text x="852.5" y="459.32" font-size="10.4" fill="#2b2b2b" text-anchor="middle" font-weight="bold" textLength="41" lengthAdjust="spacingAndGlyphs">BEDROOM</text>
<text x="852.5" y="470.25" font-size="6" fill="#2b2b2b" text-anchor="middle" font-weight="normal" textLength="28" lengthAdjust="spacingAndGlyphs">14'2&quot; X 12'0&quot;</text>
<rect x="738.3" y="352.5" width="60.9" height="2.8" fill="#f0f0f0" stroke="#aaa" stroke-width="0.6"/>
<rect x="735.9" y="353" width="3.2" height="55" fill="#f0f0f0" stroke="#aaa" stroke-width="0.6"/>
<polyline points="760.2,355.3 760.2,376.7" fill="none" stroke="#999" stroke-width="0.8"/>
<polyline points="765.6,355.3 765.6,376.7" fill="none" stroke="#999" stroke-width="0.8"/>
<polyline points="771.1,355.3 771.1,376.7" fill="none" stroke="#999" stroke-width="0.8"/>
<polyline points="776.6,355.3 776.6,376.7" fill="none" stroke="#999" stroke-width="0.8"/>
<polyline points="782,355.3 782,376.7" fill="none" stroke="#999" stroke-width="0.8"/>
<polyline points="787.5,355.3 787.5,376.7" fill="none" stroke="#999" stroke-width="0.8"/>
<polyline points="793,355.3 793,376.7" fill="none" stroke="#999" stroke-width="0.8"/>
<polyline points="797.7,355.3 797.7,376.7" fill="none" stroke="#999" stroke-width="0.8"/>
<polyline points="760,365.8 796,365.8" fill="none" stroke="#aaa" stroke-width="0.6"/>
<polygon points="765.5,362.6 765.5,369 761.5,365.8" fill="#222" stroke="none" stroke-width="1"/>
<polyline points="760.2,376.7 810.2,376.7 810.2,397.8" fill="none" stroke="#999" stroke-width="0.8"/>
<polyline points="761.3,378.7 808.2,378.7 808.2,397.8" fill="none" stroke="#bbb" stroke-width="0.6"/>
<polyline points="738.3,380.6 760.2,380.6" fill="none" stroke="#999" stroke-width="0.8"/>
<polyline points="738.3,386.1 760.2,386.1" fill="none" stroke="#999" stroke-width="0.8"/>
<polyline points="738.3,390.8 760.2,390.8" fill="none" stroke="#999" stroke-width="0.8"/>
<polyline points="738.3,396.3 760.2,396.3" fill="none" stroke="#999" stroke-width="0.8"/>
<polyline points="738.3,401.7 760.2,401.7" fill="none" stroke="#999" stroke-width="0.8"/>
<polyline points="738.3,407.2 760.2,407.2" fill="none" stroke="#999" stroke-width="0.8"/>
<polyline points="761.3,378.7 761.3,408" fill="none" stroke="#aaa" stroke-width="0.8"/>
<polyline points="748.8,382 748.8,403" fill="none" stroke="#aaa" stroke-width="0.6"/>
<polygon points="745.6,402 752,402 748.8,405.4" fill="#222" stroke="none" stroke-width="1"/>
<polyline points="651.9,353.1 651.9,495.5 657.4,495.5" fill="none" stroke="#363636" stroke-width="4.1" stroke-linecap="butt" stroke-linejoin="miter"/>
<polygon points="657.4,497.65 670.1,497.65 670.1,493.35 657.4,493.35" fill="#fafafa" stroke="#888888" stroke-width="0.6"/>
<polyline points="657.4,495.5 670.1,495.5" fill="none" stroke="#aaa" stroke-width="0.5"/>
<polyline points="670.1,495.5 675.4,495.5 675.4,509.5 681.8,509.5" fill="none" stroke="#363636" stroke-width="4.1" stroke-linecap="butt" stroke-linejoin="miter"/>
<polygon points="681.8,511.65 708.2,511.65 708.2,507.35 681.8,507.35" fill="#fafafa" stroke="#888888" stroke-width="0.6"/>
<polyline points="681.8,509.5 708.2,509.5" fill="none" stroke="#aaa" stroke-width="0.5"/>
<polyline points="708.2,509.5 713.7,509.5 713.7,495.5 719.8,495.5" fill="none" stroke="#363636" stroke-width="4.1" stroke-linecap="butt" stroke-linejoin="miter"/>
<polygon points="719.8,497.65 732.0,497.65 732.0,493.35 719.8,493.35" fill="#fafafa" stroke="#888888" stroke-width="0.6"/>
<polyline points="719.8,495.5 732,495.5" fill="none" stroke="#aaa" stroke-width="0.5"/>
<polyline points="732,495.5 737.8,495.5 737.8,440.8 753.9,440.8 753.9,447.8 793.8,447.8 793.8,440.8 810.2,440.8" fill="none" stroke="#363636" stroke-width="4.1" stroke-linecap="butt" stroke-linejoin="miter"/>
<rect x="756.2" y="441.5" width="35.3" height="4.2" rx="0" fill="#ececec" stroke="#bbb" stroke-width="0.5"/>
<text x="695.6" y="427.26" font-size="8" fill="#2b2b2b" text-anchor="middle" font-weight="bold" textLength="27" lengthAdjust="spacingAndGlyphs">OPEN TO</text>
<text x="695.6" y="438.76" font-size="8" fill="#2b2b2b" text-anchor="middle" font-weight="bold" textLength="22" lengthAdjust="spacingAndGlyphs">BELOW</text>
<polyline points="861.6,516.6 896.3,516.6" fill="none" stroke="#363636" stroke-width="4.1" stroke-linecap="butt" stroke-linejoin="miter"/>
<polyline points="861.9,497.3 861.9,572.4" fill="none" stroke="#363636" stroke-width="4.1" stroke-linecap="butt" stroke-linejoin="miter"/>
<polyline points="809.7,499.4 830.8,499.4" fill="none" stroke="#363636" stroke-width="4.1" stroke-linecap="butt" stroke-linejoin="miter"/>
<polyline points="846.6,499.4 863.7,499.4" fill="none" stroke="#363636" stroke-width="4.1" stroke-linecap="butt" stroke-linejoin="miter"/>
<polyline points="891,499.4 896.3,499.4" fill="none" stroke="#363636" stroke-width="4.1" stroke-linecap="butt" stroke-linejoin="miter"/>
<polyline points="862,505.1 894,505.1" fill="none" stroke="#aaa" stroke-width="0.8"/>
<polyline points="863,499 870.2,494.4 877,499" fill="none" stroke="#999" stroke-width="0.8"/>
<polyline points="878,499 885.2,494.4 891,499" fill="none" stroke="#999" stroke-width="0.8"/>
<path d="M830.8,499.4 L842.3,488.6 A17,17 0 0 1 846.6,499" fill="none" stroke="#aaa" stroke-width="0.8"/>
<polyline points="807.9,571 815,571" fill="none" stroke="#363636" stroke-width="4.1" stroke-linecap="butt" stroke-linejoin="miter"/>
<polygon points="815.0,573.15 856.6,573.15 856.6,568.85 815.0,568.85" fill="#fafafa" stroke="#888888" stroke-width="0.6"/>
<polyline points="815,571 856.6,571" fill="none" stroke="#aaa" stroke-width="0.5"/>
<polyline points="856.6,571 863.7,571" fill="none" stroke="#363636" stroke-width="4.1" stroke-linecap="butt" stroke-linejoin="miter"/>
<rect x="815" y="541.6" width="43.7" height="19.4" rx="7" fill="none" stroke="#aaa" stroke-width="0.8"/>
<rect x="812.5" y="563" width="47" height="4" rx="0" fill="#e6e6e6" stroke="none" stroke-width="1"/>
<polyline points="812,539.9 860,539.9" fill="none" stroke="#aaa" stroke-width="0.8"/>
<polyline points="847.3,501.5 847.3,539.9" fill="none" stroke="#bbb" stroke-width="0.6"/>
<polyline points="813,502 830,502 830,510 820,519.5 812,519.5" fill="none" stroke="#999" stroke-width="0.8"/>
<ellipse cx="820" cy="528.7" rx="6" ry="4" fill="none" stroke="#aaa" stroke-width="0.7"/>
<ellipse cx="853" cy="520.1" rx="4" ry="5.5" fill="none" stroke="#aaa" stroke-width="0.7"/>
<text x="835.8" y="529.32" font-size="7.6" fill="#2b2b2b" text-anchor="middle" font-weight="bold" textLength="12.9" lengthAdjust="spacingAndGlyphs">4 P.C.</text>
<text x="835.8" y="538.62" font-size="7.6" fill="#2b2b2b" text-anchor="middle" font-weight="bold" textLength="21.5" lengthAdjust="spacingAndGlyphs">ENSUITE</text>
<text x="835.8" y="547.22" font-size="7.6" fill="#2b2b2b" text-anchor="middle" font-weight="bold" textLength="14.3" lengthAdjust="spacingAndGlyphs">BATH</text>
</svg></body></html>
